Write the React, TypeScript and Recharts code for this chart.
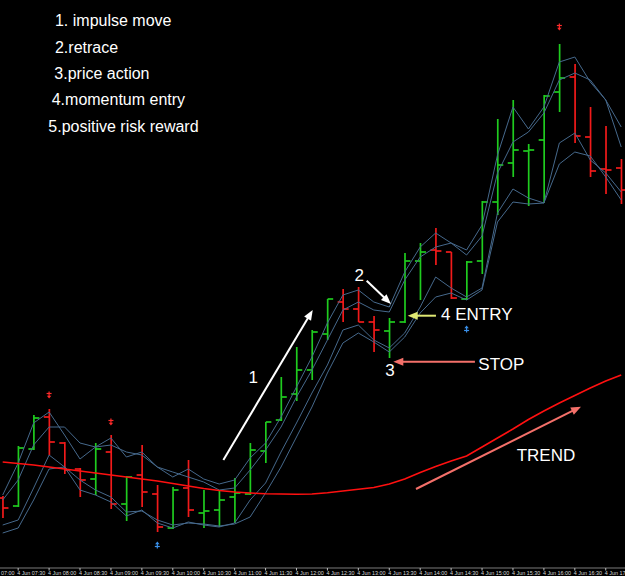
import React from "react";
import {
  ComposedChart,
  Bar,
  Line,
  Scatter,
  XAxis,
  YAxis,
  ReferenceLine,
  ReferenceDot,
} from "recharts";

// ---- data (price in chart points) ----
const BAR_INDEX = Array.from({ length: 41 }, (_, i) => i); // 15-min bars from 4 Jun 07:15
const OPEN = [70, 62, 119, 151, 125, 99, 89, 116, 64, 93, 74, 40, 80, 55, 58, 71, 74, 117, 148, 174, 198, 234, 266, 259, 246, 237, 246, 307, 318, 316, 269, 307, 366, 405, 417, 428, 476, 491, 431, 399, 400];
const HIGH = [72, 122, 153, 159, 126, 100, 125, 133, 92, 123, 83, 81, 108, 78, 78, 90, 125, 146, 191, 221, 238, 269, 279, 281, 252, 250, 315, 325, 340, 316, 307, 367, 449, 468, 424, 473, 524, 504, 461, 442, 409];
const LOW = [50, 61, 118, 113, 94, 71, 73, 59, 47, 61, 36, 39, 51, 40, 41, 45, 73, 105, 147, 167, 188, 228, 246, 246, 216, 210, 245, 268, 303, 269, 268, 294, 353, 391, 362, 365, 456, 425, 391, 374, 364];
const CLOSE = [60, 120, 150, 126, 98, 88, 119, 64, 91, 76, 41, 78, 58, 57, 68, 75, 118, 146, 171, 198, 236, 269, 259, 246, 238, 246, 307, 316, 317, 270, 306, 366, 403, 418, 418, 472, 490, 432, 397, 398, 378];

const BAND_UPPER_FAST = [73, 105, 145, 156, 133, 109, 121, 130, 111, 116, 101, 91, 99, 89, 84, 88, 110, 125, 151, 181, 211, 245, 273, 278, 266, 261, 296, 321, 335, 325, 318, 343, 413, 461, 439, 461, 506, 511, 486, 468, 441];
const BAND_UPPER_SLOW = [68, 88, 123, 141, 141, 125, 121, 123, 116, 113, 101, 96, 91, 86, 78, 80, 98, 118, 141, 171, 198, 228, 258, 266, 258, 256, 288, 311, 321, 325, 313, 332, 395, 426, 436, 455, 488, 495, 488, 468, 421];
const BAND_LOWER_FAST = [43, 48, 80, 113, 101, 78, 73, 66, 52, 58, 45, 40, 46, 43, 41, 45, 68, 85, 116, 145, 175, 203, 238, 243, 228, 220, 235, 261, 291, 280, 271, 280, 355, 379, 370, 365, 425, 435, 408, 395, 376];
const BAND_LOWER_SLOW = [35, 40, 68, 99, 101, 88, 78, 71, 56, 57, 48, 43, 45, 44, 42, 44, 51, 75, 101, 131, 161, 195, 225, 235, 226, 216, 231, 255, 271, 275, 268, 278, 346, 366, 364, 365, 404, 416, 412, 391, 368];
const TREND_MA = [106, 104.5, 103, 101, 99, 97, 95, 93, 91, 89, 87, 84.5, 82, 79.5, 77.5, 76, 75, 74.3, 74, 73.7, 74, 75.3, 77, 78.7, 80.5, 84, 89, 95.5, 101.5, 107, 112, 121, 130, 139, 148.5, 157, 165, 172.5, 180, 187, 193];

const FRACTAL_UP = [
  { idx: 3, v: 173 },
  { idx: 7, v: 146 },
  { idx: 36, v: 541 },
];
const FRACTAL_DOWN = [
  { idx: 10, v: 23 },
  { idx: 30, v: 239 },
];

const TICK_INDEX = [-1, 1, 3, 5, 7, 9, 11, 13, 15, 17, 19, 21, 23, 25, 27, 29, 31, 33, 35, 37, 39];
const TICK_LABELS = [
  "4 Jun 07:00", "4 Jun 07:30", "4 Jun 08:00", "4 Jun 08:30", "4 Jun 09:00", "4 Jun 09:30",
  "4 Jun 10:00", "4 Jun 10:30", "4 Jun 11:00", "4 Jun 11:30", "4 Jun 12:00", "4 Jun 12:30",
  "4 Jun 13:00", "4 Jun 13:30", "4 Jun 14:00", "4 Jun 14:30", "4 Jun 15:00", "4 Jun 15:30",
  "4 Jun 16:00", "4 Jun 16:30", "4 Jun 17:00",
];

// annotations (in data coordinates: bar index, price)
const NOTES = [
  { text: "1. impulse move", idx: 3.38, v: 542 },
  { text: "2.retrace", idx: 3.38, v: 515 },
  { text: "3.price action", idx: 3.34, v: 489.5 },
  { text: "4.momentum entry", idx: 3.17, v: 463 },
  { text: "5.positive risk reward", idx: 2.95, v: 436 },
];
const WAVE_LABELS = [
  { text: "1", idx: 16.21, v: 185 },
  { text: "2", idx: 23.06, v: 287 },
  { text: "3", idx: 25.05, v: 192 },
];
const CALLOUTS = [
  { text: "4 ENTRY", idx: 28.35, v: 248 },
  { text: "STOP", idx: 30.76, v: 198.5 },
  { text: "TREND", idx: 33.24, v: 107 },
];
const ARROWS = [
  { from: [14.27, 108], to: [20.05, 258] },
  { from: [23.54, 287.3], to: [25.11, 264] },
  { from: [28.02, 252.3], to: [26.19, 252.3] },
  { from: [30.54, 206.3], to: [25.26, 206.3] },
  { from: [26.73, 79], to: [37.4, 161.3] },
];
const ARROW_COLORS = ["#ffffff", "#ffffff", "#dfe873", "#f4706a", "#f4706a"];

const UP = "#1fcc1f";
const DOWN = "#f21a1a";
const BAND = "#46698c";
const FONT = "'Liberation Sans', Arial, Helvetica, sans-serif";

const data = BAR_INDEX.map((idx, i) => ({
  idx,
  open: OPEN[i],
  high: HIGH[i],
  low: LOW[i],
  close: CLOSE[i],
  range: [LOW[i], HIGH[i]],
  uf: BAND_UPPER_FAST[i],
  us: BAND_UPPER_SLOW[i],
  lf: BAND_LOWER_FAST[i],
  ls: BAND_LOWER_SLOW[i],
  ma: TREND_MA[i],
}));

const OhlcShape = (props: any) => {
  const { x, y, width, height, payload } = props;
  if (!payload) return null;
  const cx = x + width / 2;
  const span = payload.high - payload.low;
  const k = span > 0 ? height / span : 0;
  const yOpen = y + (payload.high - payload.open) * k;
  const yClose = y + (payload.high - payload.close) * k;
  const color = payload.close >= payload.open ? UP : DOWN;
  return (
    <g stroke={color} strokeWidth={1.7}>
      <line x1={cx} y1={y} x2={cx} y2={y + height} />
      <line x1={cx - 5.5} y1={yOpen} x2={cx} y2={yOpen} />
      <line x1={cx} y1={yClose} x2={cx + 5.5} y2={yClose} />
    </g>
  );
};

const FractalUpShape = (p: any) => {
  const { cx, cy } = p;
  return (
    <g>
      <line x1={cx} y1={cy - 3.5} x2={cx} y2={cy + 1.5} stroke="#ff2a2a" strokeWidth={1.2} />
      <line x1={cx - 2.5} y1={cy - 1.5} x2={cx + 2.5} y2={cy - 1.5} stroke="#ff2a2a" strokeWidth={1.2} />
      <polygon points={`${cx - 2.2},${cy + 0.8} ${cx + 2.2},${cy + 0.8} ${cx},${cy + 3.5}`} fill="#ff2a2a" />
    </g>
  );
};

const FractalDownShape = (p: any) => {
  const { cx, cy } = p;
  return (
    <g>
      <line x1={cx} y1={cy - 1.5} x2={cx} y2={cy + 3.5} stroke="#3a90ea" strokeWidth={1.2} />
      <line x1={cx - 2.5} y1={cy + 1.5} x2={cx + 2.5} y2={cy + 1.5} stroke="#3a90ea" strokeWidth={1.2} />
      <polygon points={`${cx - 2.2},${cy - 0.8} ${cx + 2.2},${cy - 0.8} ${cx},${cy - 3.5}`} fill="#3a90ea" />
    </g>
  );
};

const makeArrow = (color: string) => (p: any) => {
  const { x1, y1, x2, y2 } = p;
  if ([x1, y1, x2, y2].some((n) => n == null || isNaN(n))) return <g />;
  const dx = x2 - x1;
  const dy = y2 - y1;
  const len = Math.sqrt(dx * dx + dy * dy) || 1;
  const ux = dx / len;
  const uy = dy / len;
  const head = 10;
  const half = 4;
  const bx = x2 - ux * head;
  const by = y2 - uy * head;
  const pts = `${x2},${y2} ${bx - uy * half},${by + ux * half} ${bx + uy * half},${by - ux * half}`;
  return (
    <g>
      <line x1={x1} y1={y1} x2={bx + ux * 1} y2={by + uy * 1} stroke={color} strokeWidth={2} />
      <polygon points={pts} fill={color} />
    </g>
  );
};

const textShape = (text: string, size: number, anchor: "start" | "middle") => (p: any) => (
  <text
    x={p.cx}
    y={p.cy}
    fill="#ffffff"
    fontSize={size}
    fontFamily={FONT}
    textAnchor={anchor}
  >
    {text}
  </text>
);

const AxisTick = (p: any) => {
  const { x, y, payload } = p;
  const pos = TICK_INDEX.indexOf(payload.value);
  const label = pos >= 0 ? TICK_LABELS[pos] : "";
  return (
    <g>
      <line x1={x} y1={y} x2={x} y2={y + 2.5} stroke="#bdbdbd" strokeWidth={1} />
      <text x={x - 1} y={y + 6.6} fill="#d8d8d8" fontSize={5.4} fontFamily={FONT}>
        {label}
      </text>
    </g>
  );
};

export default function App() {
  return (
    <div
      style={{
        position: "fixed",
        left: 0,
        top: 0,
        width: 625,
        height: 576,
        background: "#000",
        overflow: "hidden",
      }}
    >
      <ComposedChart
        width={625}
        height={576}
        data={data}
        margin={{ top: 0, right: 0, bottom: 0, left: 0 }}
      >
        <XAxis
          dataKey="idx"
          type="number"
          domain={[-0.1746, 40.2454]}
          allowDataOverflow
          ticks={TICK_INDEX}
          interval={0}
          height={8}
          tickSize={0}
          tickMargin={0}
          tickLine={false}
          axisLine={{ stroke: "#7a7a7a", strokeWidth: 1 }}
          tick={<AxisTick />}
        />
        <YAxis type="number" domain={[0, 568]} allowDataOverflow hide width={0} />

        <Line dataKey="uf" stroke={BAND} strokeWidth={1} dot={false} activeDot={false} isAnimationActive={false} />
        <Line dataKey="us" stroke={BAND} strokeWidth={1} dot={false} activeDot={false} isAnimationActive={false} />
        <Line dataKey="lf" stroke={BAND} strokeWidth={1} dot={false} activeDot={false} isAnimationActive={false} />
        <Line dataKey="ls" stroke={BAND} strokeWidth={1} dot={false} activeDot={false} isAnimationActive={false} />
        <Line dataKey="ma" stroke="#ff1010" strokeWidth={1.6} dot={false} activeDot={false} isAnimationActive={false} />

        <Bar dataKey="range" barSize={10} shape={<OhlcShape />} activeBar={false} isAnimationActive={false} />

        <Scatter data={FRACTAL_UP} dataKey="v" shape={<FractalUpShape />} activeShape={<FractalUpShape />} isAnimationActive={false} />
        <Scatter data={FRACTAL_DOWN} dataKey="v" shape={<FractalDownShape />} activeShape={<FractalDownShape />} isAnimationActive={false} />

        {ARROWS.map((a, i) => (
          <ReferenceLine
            key={`arr-${i}`}
            segment={[
              { x: a.from[0], y: a.from[1] },
              { x: a.to[0], y: a.to[1] },
            ]}
            ifOverflow="visible"
            shape={makeArrow(ARROW_COLORS[i])}
          />
        ))}

        {NOTES.map((n, i) => (
          <ReferenceDot key={`note-${i}`} x={n.idx} y={n.v} r={1} ifOverflow="visible" shape={textShape(n.text, 16, "start")} />
        ))}
        {WAVE_LABELS.map((n, i) => (
          <ReferenceDot key={`wave-${i}`} x={n.idx} y={n.v} r={1} ifOverflow="visible" shape={textShape(n.text, 17, "middle")} />
        ))}
        {CALLOUTS.map((n, i) => (
          <ReferenceDot key={`call-${i}`} x={n.idx} y={n.v} r={1} ifOverflow="visible" shape={textShape(n.text, 17, "start")} />
        ))}
      </ComposedChart>
    </div>
  );
}
